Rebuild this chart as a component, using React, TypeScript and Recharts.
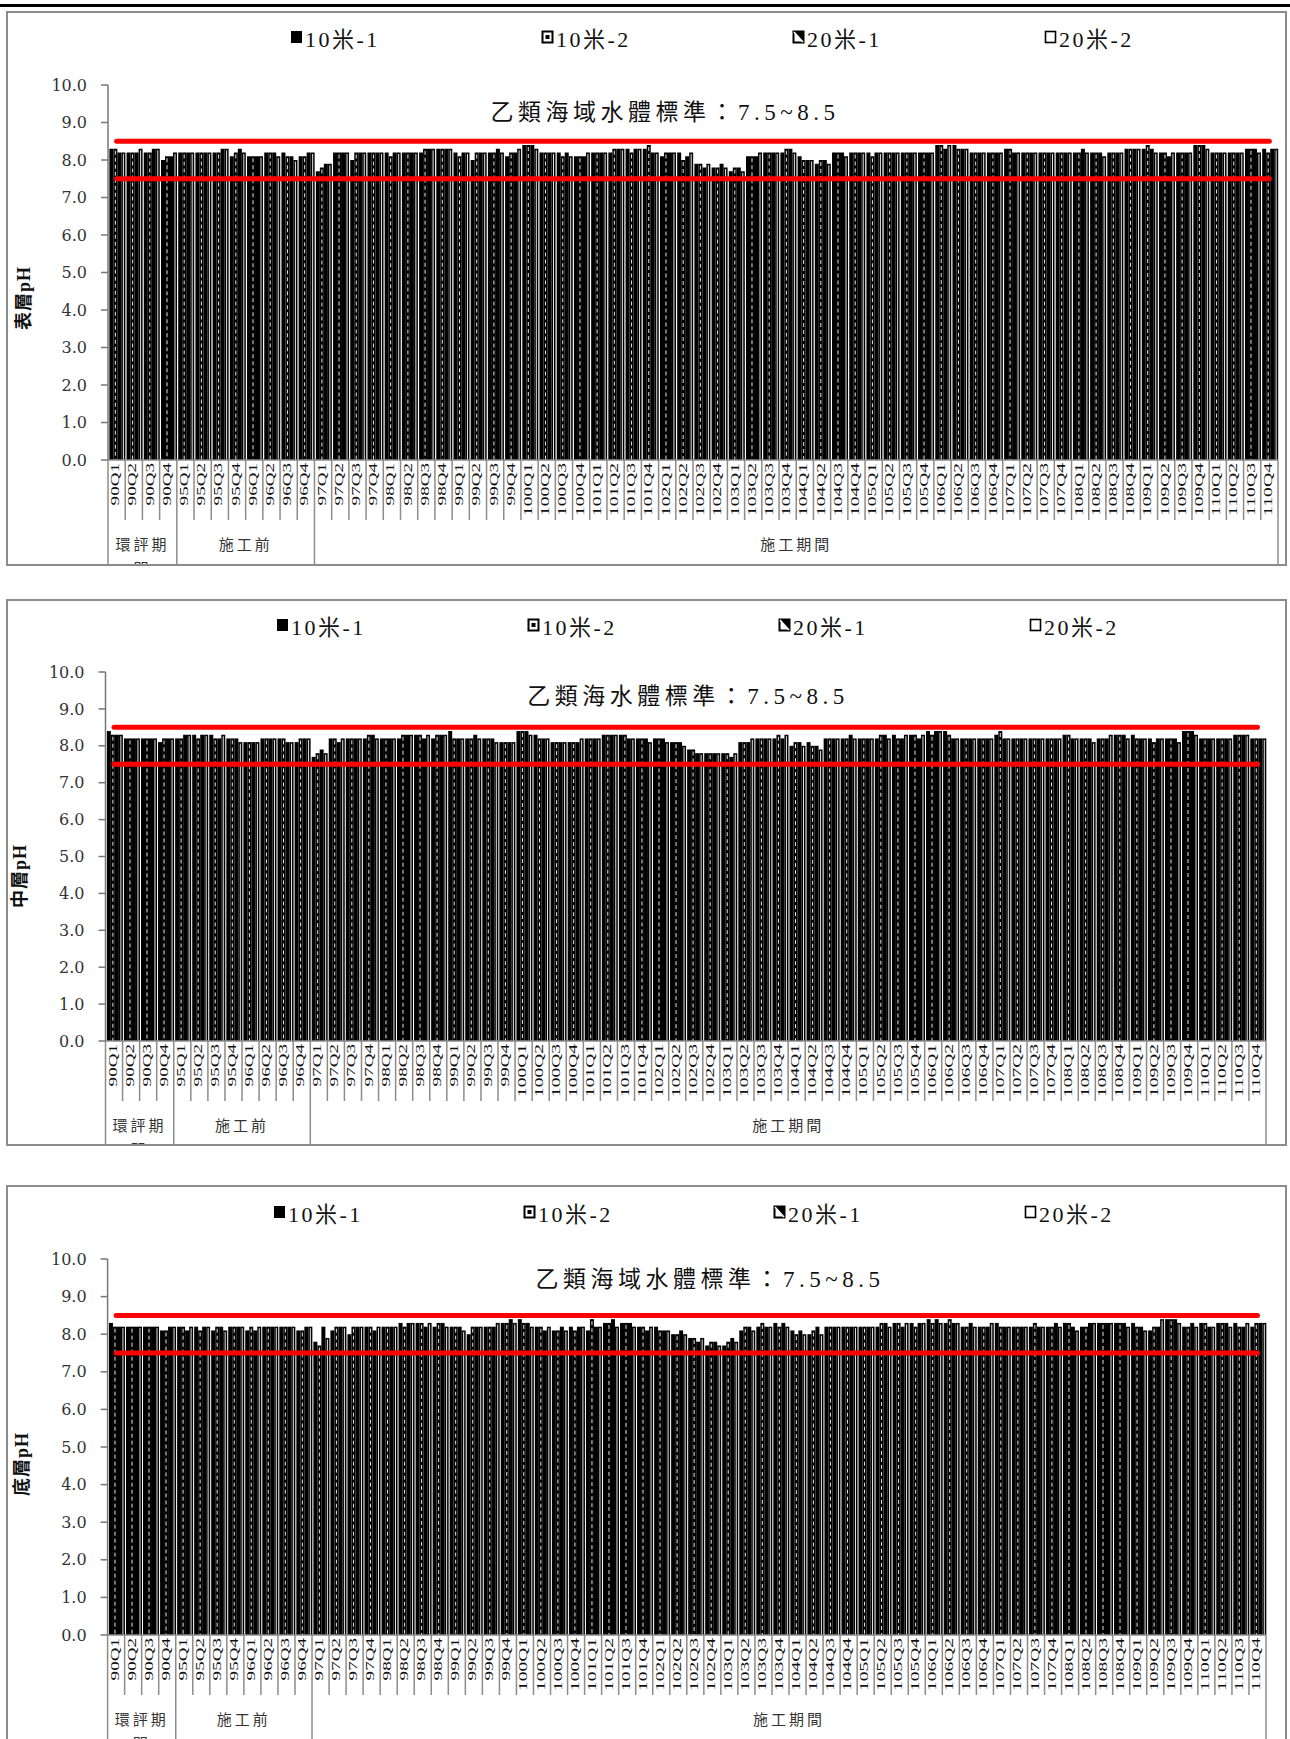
import React from 'react';
import { ComposedChart, Bar, Line, XAxis, YAxis } from 'recharts';

// ---------- categories ----------
const quarters = [
  '90Q1','90Q2','90Q3','90Q4',
  '95Q1','95Q2','95Q3','95Q4','96Q1','96Q2','96Q3','96Q4',
  '97Q1','97Q2','97Q3','97Q4','98Q1','98Q2','98Q3','98Q4',
  '99Q1','99Q2','99Q3','99Q4','100Q1','100Q2','100Q3','100Q4',
  '101Q1','101Q2','101Q3','101Q4','102Q1','102Q2','102Q3','102Q4',
  '103Q1','103Q2','103Q3','103Q4','104Q1','104Q2','104Q3','104Q4',
  '105Q1','105Q2','105Q3','105Q4','106Q1','106Q2','106Q3','106Q4',
  '107Q1','107Q2','107Q3','107Q4','108Q1','108Q2','108Q3','108Q4',
  '109Q1','109Q2','109Q3','109Q4','110Q1','110Q2','110Q3','110Q4',
];

const groups = [
  { lines: ['環評期', '間'], start: 0, end: 4 },
  { lines: ['施工前'], start: 4, end: 12 },
  { lines: ['施工期間'], start: 12, end: 68 },
];

const seriesNames = ['10米-1', '10米-2', '20米-1', '20米-2'];
const yTicks = [0, 1, 2, 3, 4, 5, 6, 7, 8, 9, 10];
const upperStd = 8.5;
const lowerStd = 7.5;

// ---------- 表層 pH ----------
const surf1 = [8.3,8.2,8.2,8.0, 8.2,8.2,8.2,8.1,8.1,8.2,8.2,8.1, 7.7,8.2,8.0,8.2,8.2,8.2,8.2,8.3, 8.2,8.0,8.2,8.1,8.4,8.2,8.2,8.1, 8.2,8.2,8.3,8.3,8.1,8.2,7.9,7.8, 7.7,8.1,8.2,8.2,8.1,7.9,8.2,8.2, 8.2,8.2,8.2,8.2,8.4,8.4,8.2,8.2, 8.3,8.2,8.2,8.2,8.2,8.2,8.2,8.3, 8.3,8.2,8.2,8.4,8.2,8.2,8.3,8.3];
const surf2 = [8.3,8.2,8.2,8.1, 8.2,8.2,8.2,8.2,8.1,8.2,8.1,8.1, 7.8,8.2,8.2,8.2,8.1,8.2,8.3,8.3, 8.1,8.2,8.2,8.2,8.4,8.2,8.1,8.1, 8.2,8.3,8.2,8.4,8.2,8.0,7.9,7.8, 7.8,8.1,8.2,8.3,8.0,8.0,8.2,8.2, 8.1,8.2,8.2,8.2,8.4,8.3,8.2,8.2, 8.3,8.2,8.2,8.2,8.2,8.2,8.2,8.3, 8.4,8.2,8.2,8.4,8.2,8.2,8.3,8.2];
const surf3 = [8.2,8.2,8.3,8.1, 8.2,8.2,8.3,8.3,8.1,8.2,8.1,8.2, 7.9,8.2,8.2,8.2,8.2,8.2,8.3,8.3, 8.2,8.2,8.3,8.2,8.4,8.2,8.2,8.1, 8.2,8.3,8.3,8.2,8.2,8.1,7.8,7.9, 7.8,8.1,8.2,8.3,8.0,8.0,8.2,8.2, 8.2,8.2,8.2,8.2,8.3,8.3,8.2,8.2, 8.2,8.2,8.2,8.2,8.3,8.2,8.2,8.3, 8.3,8.1,8.2,8.4,8.2,8.2,8.3,8.3];
const surf4 = [8.2,8.3,8.3,8.2, 8.2,8.2,8.3,8.2,8.1,8.1,8.0,8.2, 7.9,8.2,8.2,8.2,8.2,8.2,8.3,8.3, 8.2,8.2,8.2,8.3,8.3,8.2,8.1,8.2, 8.2,8.3,8.3,8.2,8.2,8.2,7.9,7.8, 7.7,8.2,8.2,8.2,8.0,7.9,8.1,8.2, 8.2,8.2,8.2,8.2,8.4,8.3,8.2,8.2, 8.2,8.2,8.2,8.2,8.2,8.1,8.2,8.3, 8.2,8.2,8.2,8.3,8.2,8.2,8.2,8.3];

// ---------- 中層 pH ----------
const mid1 = [8.4,8.2,8.2,8.1, 8.2,8.3,8.3,8.2,8.1,8.2,8.2,8.1, 7.7,8.2,8.2,8.2,8.2,8.2,8.3,8.2, 8.4,8.2,8.2,8.1,8.4,8.3,8.1,8.1, 8.2,8.3,8.3,8.2,8.2,8.1,7.9,7.8, 7.8,8.1,8.2,8.2,8.0,8.1,8.2,8.2, 8.2,8.2,8.3,8.3,8.4,8.4,8.2,8.2, 8.3,8.2,8.2,8.2,8.3,8.2,8.2,8.3, 8.3,8.2,8.2,8.4,8.2,8.2,8.3,8.2];
const mid2 = [8.3,8.2,8.2,8.2, 8.2,8.2,8.2,8.2,8.1,8.2,8.2,8.2, 7.8,8.2,8.2,8.3,8.2,8.3,8.3,8.3, 8.2,8.2,8.2,8.1,8.4,8.2,8.1,8.1, 8.2,8.3,8.3,8.2,8.2,8.1,7.9,7.8, 7.8,8.1,8.2,8.3,8.1,8.0,8.2,8.2, 8.2,8.3,8.2,8.3,8.3,8.3,8.2,8.2, 8.4,8.2,8.2,8.2,8.3,8.2,8.2,8.3, 8.2,8.1,8.2,8.4,8.2,8.2,8.3,8.2];
const mid3 = [8.3,8.2,8.2,8.2, 8.3,8.3,8.2,8.2,8.1,8.2,8.1,8.2, 7.9,8.1,8.2,8.3,8.2,8.3,8.2,8.3, 8.2,8.3,8.2,8.1,8.4,8.2,8.1,8.1, 8.2,8.3,8.2,8.2,8.2,8.1,7.8,7.8, 7.7,8.1,8.2,8.2,8.1,8.0,8.2,8.3, 8.2,8.3,8.2,8.2,8.4,8.2,8.2,8.2, 8.2,8.2,8.2,8.2,8.2,8.2,8.2,8.3, 8.2,8.2,8.2,8.4,8.2,8.2,8.3,8.2];
const mid4 = [8.3,8.2,8.2,8.2, 8.3,8.3,8.3,8.1,8.1,8.2,8.1,8.2, 7.8,8.2,8.2,8.2,8.2,8.3,8.3,8.3, 8.2,8.2,8.1,8.1,8.3,8.2,8.1,8.2, 8.2,8.3,8.2,8.1,8.1,8.0,7.8,7.8, 7.8,8.2,8.2,8.3,8.0,7.9,8.2,8.2, 8.2,8.2,8.3,8.3,8.4,8.2,8.2,8.2, 8.2,8.2,8.2,8.2,8.2,8.1,8.3,8.2, 8.2,8.2,8.1,8.3,8.2,8.2,8.3,8.2];

// ---------- 底層 pH ----------
const bot1 = [8.3,8.2,8.2,8.1, 8.2,8.2,8.1,8.2,8.1,8.2,8.2,8.1, 7.8,8.1,8.0,8.2,8.2,8.3,8.3,8.2, 8.2,8.0,8.2,8.3,8.4,8.2,8.1,8.2, 8.1,8.3,8.3,8.2,8.2,8.0,7.9,7.7, 7.7,8.1,8.2,8.3,8.1,8.0,8.2,8.2, 8.2,8.2,8.3,8.3,8.4,8.3,8.2,8.2, 8.3,8.2,8.2,8.2,8.3,8.2,8.3,8.3, 8.3,8.1,8.4,8.2,8.3,8.3,8.3,8.2];
const bot2 = [8.2,8.2,8.2,8.1, 8.2,8.1,8.2,8.2,8.2,8.2,8.2,8.1, 7.7,8.2,8.2,8.2,8.2,8.2,8.3,8.3, 8.2,8.2,8.2,8.3,8.3,8.2,8.1,8.1, 8.4,8.3,8.3,8.2,8.1,8.0,7.9,7.8, 7.8,8.2,8.3,8.2,8.0,8.1,8.2,8.2, 8.2,8.3,8.3,8.2,8.3,8.4,8.2,8.2, 8.2,8.2,8.3,8.2,8.3,8.2,8.3,8.3, 8.2,8.2,8.4,8.2,8.3,8.3,8.2,8.3];
const bot3 = [8.2,8.2,8.2,8.2, 8.1,8.2,8.2,8.2,8.1,8.2,8.2,8.2, 8.2,8.2,8.2,8.1,8.2,8.3,8.2,8.3, 8.2,8.2,8.2,8.4,8.3,8.1,8.2,8.2, 8.2,8.4,8.3,8.1,8.1,8.1,7.8,7.8, 7.9,8.2,8.2,8.3,8.1,8.2,8.2,8.2, 8.2,8.3,8.2,8.3,8.4,8.3,8.3,8.2, 8.2,8.2,8.2,8.3,8.2,8.3,8.3,8.3, 8.2,8.2,8.4,8.3,8.2,8.3,8.2,8.3];
const bot4 = [8.2,8.2,8.2,8.2, 8.2,8.2,8.1,8.2,8.2,8.2,8.2,8.2, 7.9,8.2,8.2,8.2,8.2,8.3,8.3,8.2, 8.1,8.2,8.3,8.3,8.2,8.2,8.1,8.2, 8.2,8.2,8.2,8.2,8.1,8.0,7.9,7.7, 7.8,8.1,8.2,8.2,8.0,8.0,8.2,8.2, 8.2,8.2,8.3,8.3,8.3,8.3,8.2,8.3, 8.2,8.2,8.2,8.2,8.1,8.3,8.3,8.2, 8.1,8.4,8.3,8.2,8.2,8.2,8.3,8.3];

const SERIF = "'Liberation Serif', 'Noto Sans CJK TC', serif";
const GRID = '#8c8c8c';

type Cfg = {
  box: { left: number; top: number; right: number; bottom: number };
  plot: { left: number; right: number; top: number; bottom: number };
  legendY: number;
  legendX: number[];
  title: string;
  titleCX: number;
  titleCY: number;
  yLabel: string;
  yLabelX: number;
  yLabelCY: number;
  s: number[][];
};

const panels: Cfg[] = [
  {
    box: { left: 6, top: 11, right: 1287, bottom: 566 },
    plot: { left: 108, right: 1278, top: 85, bottom: 460 },
    legendY: 37, legendX: [290, 541, 792, 1044],
    title: '乙類海域水體標準：7.5~8.5', titleCX: 665, titleCY: 113,
    yLabel: '表層pH', yLabelX: 24, yLabelCY: 298,
    s: [surf1, surf2, surf3, surf4],
  },
  {
    box: { left: 6, top: 599, right: 1287, bottom: 1146 },
    plot: { left: 105.5, right: 1266, top: 672, bottom: 1041 },
    legendY: 625, legendX: [276, 527, 778, 1029],
    title: '乙類海水體標準：7.5~8.5', titleCX: 688, titleCY: 697,
    yLabel: '中層pH', yLabelX: 20, yLabelCY: 876,
    s: [mid1, mid2, mid3, mid4],
  },
  {
    box: { left: 6, top: 1185, right: 1287, bottom: 1765 },
    plot: { left: 107.6, right: 1266, top: 1259, bottom: 1635 },
    legendY: 1212, legendX: [273, 523, 773, 1024],
    title: '乙類海域水體標準：7.5~8.5', titleCX: 710, titleCY: 1280,
    yLabel: '底層pH', yLabelX: 22, yLabelCY: 1464,
    s: [bot1, bot2, bot3, bot4],
  },
];

const makeShape = (kind: number) => (props: any) => {
  const { x, y, width, height } = props;
  if (height == null || height <= 0 || width <= 0) return <g />;
  const cx = x + width / 2;
  return (
    <g>
      <rect x={x} y={y} width={width} height={height} fill="#000" />
      {kind === 2 && (
        <line x1={cx} x2={cx} y1={y + 2} y2={y + height} stroke="#fff" strokeWidth={0.9} strokeDasharray="4 3" />
      )}
      {kind === 4 && (
        <line x1={cx} x2={cx} y1={y + 1.5} y2={y + height} stroke="#fff" strokeWidth={0.9} />
      )}
    </g>
  );
};

const LegendIcon = ({ kind }: { kind: number }) => (
  <svg width={13} height={14} style={{ display: 'block' }}>
    {kind === 1 && <rect x={1} y={1} width={11} height={12} fill="#000" />}
    {kind === 2 && (
      <g>
        <rect x={1.5} y={1.5} width={10} height={11} fill="#fff" stroke="#000" strokeWidth={2} />
        <rect x={4.5} y={5} width={4} height={4} fill="#000" />
      </g>
    )}
    {kind === 3 && (
      <g>
        <rect x={1.5} y={1.5} width={10} height={11} fill="#fff" stroke="#000" strokeWidth={2} />
        <polygon points="2,2 11,12 11,2" fill="#000" />
        <line x1={2} y1={2} x2={11} y2={12} stroke="#fff" strokeWidth={1.5} />
      </g>
    )}
    {kind === 4 && <rect x={1.5} y={1.5} width={10} height={11} fill="#fff" stroke="#000" strokeWidth={1.6} />}
  </svg>
);

function Panel({ cfg }: { cfg: Cfg }) {
  const { box, plot } = cfg;
  const W = box.right - box.left;
  const H = box.bottom - box.top;
  const yAxisW = 60;
  const xAxisH = box.bottom - plot.bottom;
  const band = (plot.right - plot.left) / quarters.length;
  const data = quarters.map((q, i) => ({
    q,
    a: cfg.s[0][i],
    b: cfg.s[1][i],
    c: cfg.s[2][i],
    d: cfg.s[3][i],
    hi: upperStd,
    lo: lowerStd,
  }));

  const renderTick = (p: any) => {
    const cx = p.x;
    const ay = p.y;
    const i = p.index ?? p.payload?.index ?? 0;
    const half = p.payload && p.payload.offset ? p.payload.offset : band / 2;
    const label = String(p.payload.value);
    const isGroupEnd = groups.some((g) => g.end === i + 1);
    const g = groups.find((gg) => gg.start === i);
    return (
      <g>
        <line x1={cx + half} x2={cx + half} y1={ay} y2={ay + (isGroupEnd ? 300 : 60)} stroke={GRID} strokeWidth={1.5} />
        {i === 0 && <line x1={cx - half} x2={cx - half} y1={ay} y2={ay + 300} stroke={GRID} strokeWidth={1.5} />}
        <text
          transform={`translate(${cx + 2.5},${ay + 3}) rotate(-90)`}
          textAnchor="end"
          fontSize={13}
          fontFamily={SERIF}
          fill="#111"
          textLength={label.length * 10.6}
          lengthAdjust="spacingAndGlyphs"
        >
          {label}
        </text>
        {g &&
          g.lines.map((ln, k) => (
            <text
              key={k}
              x={cx - half + ((g.end - g.start) * half * 2) / 2}
              y={ay + 85 + k * 24}
              textAnchor="middle"
              dominantBaseline="central"
              fontSize={15}
              letterSpacing={3}
              fontFamily={SERIF}
              fill="#333"
            >
              {ln}
            </text>
          ))}
      </g>
    );
  };

  return (
    <div
      style={{
        position: 'absolute',
        left: box.left,
        top: box.top,
        width: W,
        height: H,
        border: `2px solid ${GRID}`,
        boxSizing: 'border-box',
        overflow: 'hidden',
        background: '#fff',
      }}
    >
      <div style={{ position: 'absolute', left: -2, top: -2 }}>
        <ComposedChart
          width={W}
          height={H}
          data={data}
          margin={{ top: plot.top - box.top, right: box.right - plot.right, bottom: 0, left: plot.left - box.left - yAxisW }}
          barCategoryGap="8%"
          barGap={0}
        >
          <XAxis
            dataKey="q"
            interval={0}
            height={xAxisH}
            tickSize={0}
            tickMargin={0}
            tickLine={false}
            axisLine={{ stroke: GRID, strokeWidth: 1.5 }}
            tick={renderTick}
          />
          <YAxis
            type="number"
            domain={[0, 10]}
            ticks={yTicks}
            interval={0}
            width={yAxisW}
            tickFormatter={(v: number) => v.toFixed(1)}
            tick={{ fontFamily: 'DejaVu Serif', fontSize: 16, fill: '#333' }}
            tickSize={7}
            tickMargin={14}
            axisLine={{ stroke: '#777', strokeWidth: 1.5 }}
            tickLine={{ stroke: '#777', strokeWidth: 1.5 }}
          />
          <Bar dataKey="a" name={seriesNames[0]} shape={makeShape(1)} isAnimationActive={false} />
          <Bar dataKey="b" name={seriesNames[1]} shape={makeShape(2)} isAnimationActive={false} />
          <Bar dataKey="c" name={seriesNames[2]} shape={makeShape(3)} isAnimationActive={false} />
          <Bar dataKey="d" name={seriesNames[3]} shape={makeShape(4)} isAnimationActive={false} />
          <Line dataKey="hi" stroke="#ff0000" strokeWidth={5} strokeLinecap="round" dot={false} activeDot={false} isAnimationActive={false} />
          <Line dataKey="lo" stroke="#ff0000" strokeWidth={5} strokeLinecap="round" dot={false} activeDot={false} isAnimationActive={false} />
        </ComposedChart>
      </div>

      {/* legend */}
      {seriesNames.map((n, k) => (
        <div
          key={n}
          style={{
            position: 'absolute',
            left: cfg.legendX[k] - box.left - 2,
            top: cfg.legendY - box.top - 2 - 14,
            height: 28,
            display: 'flex',
            alignItems: 'center',
            gap: 2,
            fontFamily: SERIF,
            fontSize: 22,
            letterSpacing: 2.5,
            color: '#111',
            whiteSpace: 'nowrap',
          }}
        >
          <LegendIcon kind={k + 1} />
          <span>{n}</span>
        </div>
      ))}

      {/* standard title */}
      <div
        style={{
          position: 'absolute',
          left: cfg.titleCX - box.left - 2 - 250,
          width: 500,
          top: cfg.titleCY - box.top - 2 - 15,
          height: 30,
          lineHeight: '30px',
          textAlign: 'center',
          fontFamily: SERIF,
          fontSize: 23,
          letterSpacing: 4.5,
          color: '#111',
          whiteSpace: 'nowrap',
        }}
      >
        {cfg.title}
      </div>

      {/* y label */}
      <div
        style={{
          position: 'absolute',
          left: cfg.yLabelX - box.left - 2 - 60,
          top: cfg.yLabelCY - box.top - 2 - 12,
          width: 120,
          height: 24,
          lineHeight: '24px',
          textAlign: 'center',
          transform: 'rotate(-90deg)',
          fontFamily: SERIF,
          fontWeight: 'bold',
          fontSize: 18,
          letterSpacing: 1,
          color: '#111',
        }}
      >
        {cfg.yLabel}
      </div>
    </div>
  );
}

export default function App() {
  return (
    <div
      style={{
        position: 'absolute',
        left: 0,
        top: 0,
        width: 1290,
        height: 1739,
        overflow: 'hidden',
        background: '#fff',
      }}
    >
      <div style={{ position: 'absolute', left: 0, top: 4, width: 1290, height: 3, background: '#000' }} />
      {panels.map((p, i) => (
        <Panel key={i} cfg={p} />
      ))}
    </div>
  );
}
